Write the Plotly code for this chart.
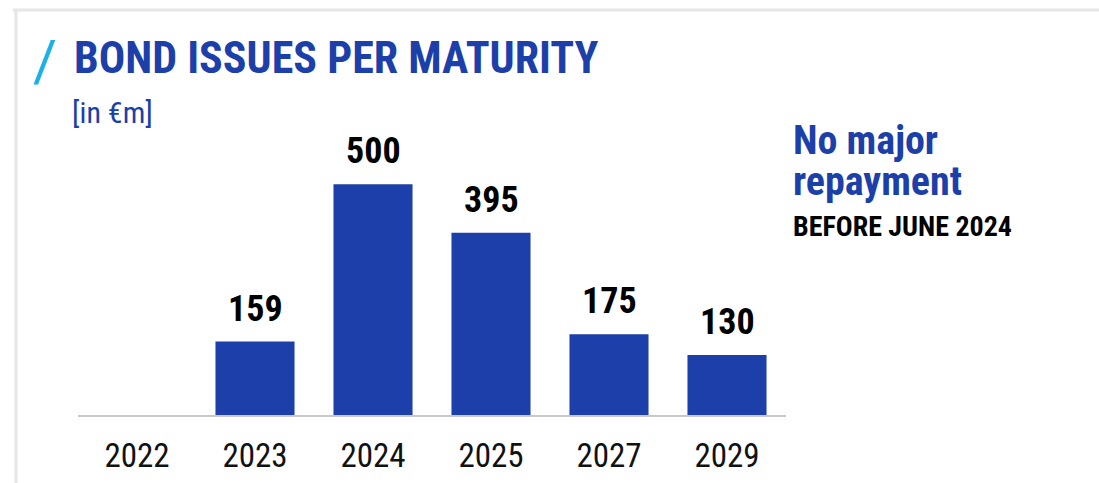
import plotly.graph_objects as go

# Bond maturities and amounts (in EUR millions)
years = ["2022", "2023", "2024", "2025", "2027", "2029"]
amounts = [None, 159, 500, 395, 175, 130]

title_text = "BOND ISSUES PER MATURITY"
unit_text = "[in €m]"
note_lines = ["No major", "repayment"]
note_sub = "BEFORE JUNE 2024"

BLUE = "#1c3fa9"
CYAN = "#19b1e6"
BORDER = "#e6e6e6"
COND = "Roboto Condensed, Liberation Sans Narrow, Roboto, sans-serif"

W, H = 1099, 483
L, R, T, B = 78, 313, 138, 68
PW, PH = W - L - R, H - T - B


def px(x):
    """Horizontal pixel -> paper fraction."""
    return (x - L) / PW


def py(y):
    """Vertical pixel -> paper fraction."""
    return (H - B - y) / PH


fig = go.Figure(
    go.Bar(
        x=list(range(len(years))),
        y=amounts,
        marker=dict(color=BLUE, line=dict(width=0)),
        hoverinfo="skip",
    )
)

# value labels above each bar
for i, v in enumerate(amounts):
    if v is None:
        continue
    fig.add_annotation(
        x=i, y=v, text=f"<b>{v}</b>", showarrow=False,
        xanchor="center", yanchor="bottom", yshift=10,
        font=dict(family=COND, size=36, color="#000000"),
    )

text_items = [
    # (text, x, y, size, color, family)
    ("/", 31, 61, 58, CYAN, "Roboto, sans-serif"),
    (f"<b>{title_text}</b>", 72, 58, 44, BLUE, COND),
    (unit_text, 70, 112, 30, BLUE, COND),
    (f"<b>{note_lines[0]}</b>", 791, 140, 40, BLUE, COND),
    (f"<b>{note_lines[1]}</b>", 791, 181, 40, BLUE, COND),
    (f"<b>{note_sub}</b>", 791, 226, 28, "#000000", COND),
]
for text, x, y, size, color, family in text_items:
    fig.add_annotation(
        xref="paper", yref="paper", x=px(x), y=py(y), text=text,
        showarrow=False, xanchor="left", yanchor="middle",
        font=dict(family=family, size=size, color=color),
    )

# light frame along the top and left edges
fig.add_shape(type="line", xref="paper", yref="paper",
              x0=px(13), x1=px(W + 5), y0=py(10), y1=py(10),
              line=dict(color=BORDER, width=3))
fig.add_shape(type="line", xref="paper", yref="paper",
              x0=px(16), x1=px(16), y0=py(10), y1=py(H + 5),
              line=dict(color=BORDER, width=3))

fig.update_layout(
    width=W, height=H,
    margin=dict(l=L, r=R, t=T, b=B, pad=0, autoexpand=False),
    paper_bgcolor="white", plot_bgcolor="white",
    bargap=0.33, showlegend=False,
    xaxis=dict(
        range=[-0.5, len(years) - 0.5], automargin=False,
        tickmode="array", tickvals=list(range(len(years))), ticktext=years,
        showline=True, linecolor="#c8c8c8", linewidth=2,
        showgrid=False, zeroline=False,
        ticks="outside", ticklen=10, tickcolor="rgba(0,0,0,0)",
        tickfont=dict(family=COND, size=33, color="#111111"),
    ),
    yaxis=dict(
        range=[0, 600], visible=False, showgrid=False, zeroline=False,
        automargin=False,
    ),
)

fig.write_html("out.html")
